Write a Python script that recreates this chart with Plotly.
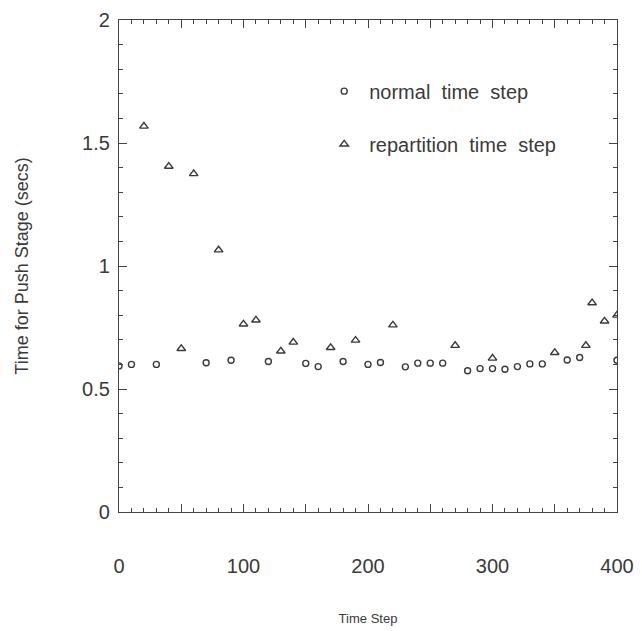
import plotly.graph_objects as go

normal_x = [0, 10, 30, 70, 90, 120, 150, 160, 180, 200, 210, 230, 240, 250, 260,
            280, 290, 300, 310, 320, 330, 340, 360, 370, 400]
normal_y = [0.594, 0.60, 0.60, 0.607, 0.617, 0.612, 0.604, 0.591, 0.612, 0.60, 0.608,
            0.59, 0.605, 0.605, 0.605, 0.574, 0.583, 0.583, 0.58, 0.591, 0.602, 0.602,
            0.618, 0.628, 0.617]

repart_x = [20, 40, 50, 60, 80, 100, 110, 130, 140, 170, 190, 220, 270, 300, 350,
            375, 380, 390, 400]
repart_y = [1.568, 1.405, 0.664, 1.375, 1.065, 0.764, 0.78, 0.654, 0.69, 0.668, 0.698,
            0.76, 0.677, 0.625, 0.648, 0.677, 0.85, 0.776, 0.80]

x_tickvals = [0, 50, 100, 150, 200, 250, 300, 350, 400]
x_ticktext = ["0", "", "100", "", "200", "", "300", "", "400"]
y_tickvals = [0, 0.5, 1, 1.5, 2]
y_ticktext = ["0", "0.5", "1", "1.5", "2"]

font_family = "Liberation Sans, Arial, sans-serif"
ink = "#3a3a3a"

fig = go.Figure()
fig.add_trace(go.Scatter(
    x=normal_x, y=normal_y, mode="markers", name="normal\u00a0 time\u00a0 step",
    legendgroup="a",
    marker=dict(symbol="circle-open", size=6, color=ink, line=dict(width=1.4, color=ink)),
))
fig.add_trace(go.Scatter(
    x=repart_x, y=repart_y, mode="markers", name="repartition\u00a0 time\u00a0 step",
    legendgroup="b",
    marker=dict(symbol="triangle-up-open", size=7.5, color=ink, line=dict(width=1.4, color=ink)),
))

axis_common = dict(
    showgrid=False, zeroline=False, showline=True, linecolor="#444", linewidth=1.2,
    mirror="ticks", ticks="inside", tickcolor="#444", tickwidth=1,
    ticklabeloverflow="allow", automargin=False,
    tickfont=dict(family=font_family, size=20, color=ink),
)

fig.update_xaxes(
    range=[0, 400], tickmode="array", tickvals=x_tickvals, ticktext=x_ticktext,
    ticklen=8, ticklabelstandoff=36,
    minor=dict(dtick=10, ticks="inside", ticklen=4, tickcolor="#444", tickwidth=1),
    title=dict(text="Time Step", font=dict(family=font_family, size=13, color=ink), standoff=37),
    **axis_common,
)
fig.update_yaxes(
    range=[0, 2], tickmode="array", tickvals=y_tickvals, ticktext=y_ticktext,
    ticklen=8, ticklabelstandoff=4,
    minor=dict(dtick=0.1, ticks="inside", ticklen=4, tickcolor="#444", tickwidth=1),
    title=dict(text="Time for Push Stage (secs)", font=dict(family=font_family, size=18, color=ink), standoff=48),
    **axis_common,
)

fig.update_layout(
    width=634, height=623,
    margin=dict(l=111, r=25, t=12, b=119, autoexpand=False),
    paper_bgcolor="white", plot_bgcolor="white",
    showlegend=True,
    legend=dict(
        x=0.402, y=0.895, xanchor="left", yanchor="top",
        bgcolor="rgba(0,0,0,0)", tracegroupgap=24, itemwidth=40,
        font=dict(family=font_family, size=20, color=ink),
    ),
)

fig.write_html("out.html")
